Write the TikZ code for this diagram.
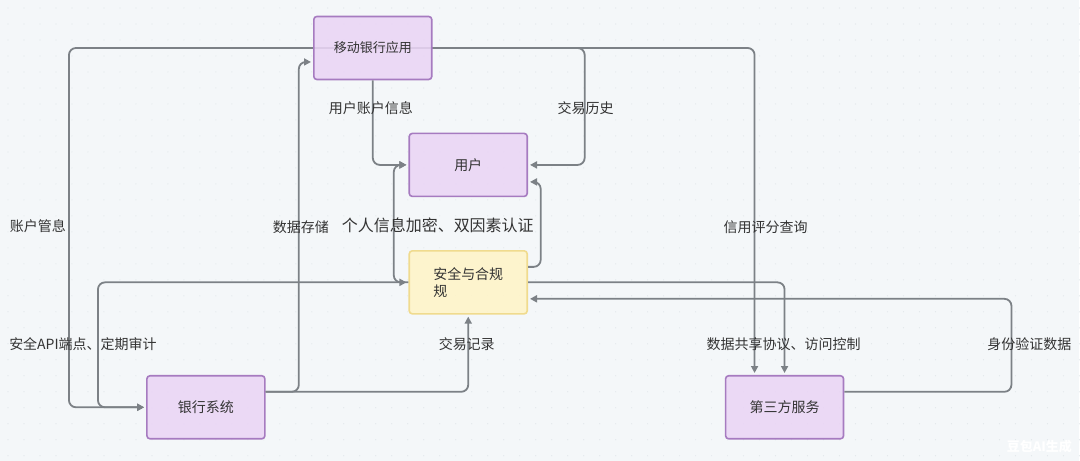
\documentclass[tikz,border=0pt]{standalone}
\usepackage{fontspec}
\setmainfont{Noto Sans CJK SC}
\usetikzlibrary{arrows.meta}
\pgfdeclarelayer{bg}
\pgfdeclarelayer{edges}
\pgfsetlayers{bg,edges,main}
\definecolor{bgc}{HTML}{F4F7F9}
\definecolor{dotc}{HTML}{E1E6EA}
\definecolor{pfill}{HTML}{EAD5F5}
\definecolor{pdraw}{HTML}{A67BC0}
\definecolor{yfill}{HTML}{FFF4C8}
\definecolor{ydraw}{HTML}{F0DB8E}
\definecolor{linec}{HTML}{7C8186}
\definecolor{txt}{HTML}{333333}
\tikzset{
  box/.style={draw=pdraw, fill=pfill, fill opacity=0.88, text opacity=1, line width=1.6pt, rounded corners=3pt,
    minimum width=118pt, minimum height=63pt, inner sep=0pt, text=txt, font=\fontsize{14}{17}\selectfont},
  ybox/.style={box, draw=ydraw, fill=yfill},
  edge/.style={draw=linec, line width=1.8pt, rounded corners=7pt},
  arr/.style={edge, -{Triangle[length=7pt,width=7pt]}, shorten >=2pt},
  barr/.style={edge, {Triangle[length=7pt,width=7pt]}-{Triangle[length=7pt,width=7pt]}, shorten >=2pt, shorten <=2pt},
  lab/.style={inner sep=0pt, text=txt, font=\fontsize{14}{17}\selectfont},
}
\begin{document}
\begin{tikzpicture}[x=1pt,y=-1pt]
\begin{pgfonlayer}{bg}
\fill[bgc] (0,0) rectangle (1080,461);
\foreach \i in {0,...,67} {\foreach \j in {0,...,28} {\fill[dotc] (8+16*\i,8+16*\j) circle (0.6pt);}}
\end{pgfonlayer}
\useasboundingbox (0,0) rectangle (1080,461);

% nodes
\node[box, font=\fontsize{13}{16}\selectfont] (app) at (373,48) {移动银行应用};
\node[box] (user) at (468.5,165) {用户};
\node[ybox, align=left] (sec) at (468.5,282.5) {安全与合规\\规};
\node[box] (bank) at (206,407.5) {银行系统};
\node[box] (tp) at (785,407.5) {第三方服务};

\coordinate (xa) at (69,0);
\coordinate (xb) at (98,0);
\coordinate (xc) at (299,0);
\coordinate (xd) at (394,0);
\coordinate (xe) at (541,0);
\coordinate (xf) at (585,0);
\coordinate (xg) at (755,0);
\coordinate (xh) at (1012,0);

\begin{pgfonlayer}{edges}
% app -> bank (账户管息)
\draw[arr] (app.center) -- (app.center -| xa) -- (bank.west -| xa) -- (bank.west);
% app -> user (交易历史)
\draw[arr] (app.center) -- (app.center -| xf) -- (user.east -| xf) -- (user.east);
% app -> third party (信用评分查询)
\draw[arr] (app.center) -- (app.center -| xg) -- (tp.north -| xg);
\end{pgfonlayer}

% app -> user (用户账户信息)
\draw[arr] (app.south) -- (app.south |- user.west) -- (user.west);
% sec <-> bank (安全API端点、定期审计)
\draw[barr] (sec.west) -- (sec.west -| xb) -- (bank.west -| xb) -- (bank.west);
% sec -> user (个人信息加密、双因素认证)
\draw[arr] (sec.west) -- (sec.west -| xd) -- (user.west -| xd) -- (user.west);
% sec -> user right
\draw[arr] ([yshift=15.5pt]sec.east) -- ([yshift=15.5pt]sec.east -| xe) -- ([yshift=-17pt]user.east -| xe) -- ([yshift=-17pt]user.east);
% sec -> third party (数据共享协议、访问控制)
\draw[arr] (sec.east) -| (tp.north);
% bank -> app (数据存储)
\draw[arr] ([yshift=15.5pt]bank.east) -- ([yshift=15.5pt]bank.east -| xc) -- ([yshift=-14pt]app.west -| xc) -- ([yshift=-14pt]app.west);
% bank -> sec (交易记录)
\draw[arr] ([yshift=15.5pt]bank.east) -| (sec.south);
% third party -> sec (身份验证数据)
\draw[arr] ([yshift=15.5pt]tp.east) -- ([yshift=15.5pt]tp.east -| xh) -- ([yshift=-16.5pt]sec.east -| xh) -- ([yshift=-16.5pt]sec.east);

% labels
\node[lab] (l1) at (371,108) {用户账户信息};
\node[lab] (l2) at (586,108) {交易历史};
\node[lab, anchor=east] (l3) at (66,226) {账户管息};
\node[lab] (l4) at (301,227) {数据存储};
\node[lab, font=\fontsize{16}{19}\selectfont] (l5) at (438,225) {个人信息加密、双因素认证};
\node[lab] (l6) at (766,227) {信用评分查询};
\node[lab] (l7) at (83,344) {安全API端点、定期审计};
\node[lab] (l8) at (467,344) {交易记录};
\node[lab] (l9) at (784,344) {数据共享协议、访问控制};
\node[lab] (l10) at (1030,344) {身份验证数据};
\node[lab, text=white, font=\fontsize{13}{16}\selectfont\bfseries] (wm) at (1040,447) {豆包AI生成};
\end{tikzpicture}
\end{document}
